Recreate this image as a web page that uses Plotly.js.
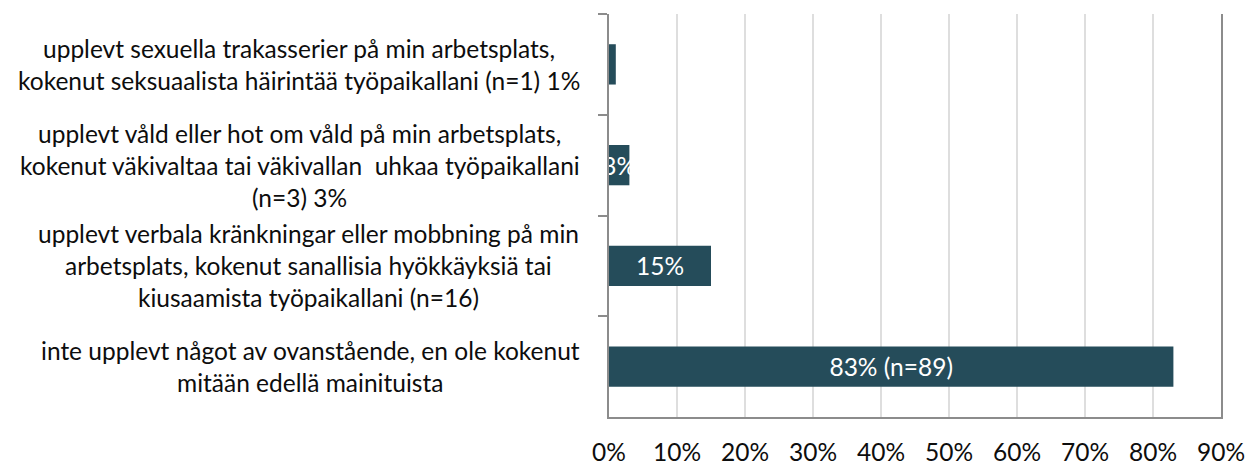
<!DOCTYPE html>
<html>
<head>
<meta charset="utf-8">
<script src="https://cdn.plot.ly/plotly-3.0.1.min.js"></script>
<style>html,body{margin:0;padding:0;background:#fff;}#chart{width:1253px;height:465px;}</style>
</head>
<body>
<div id="chart"></div>
<script>
// ---- data ----
const categories = [
  'upplevt sexuella trakasserier på min arbetsplats,<br>kokenut seksuaalista häirintää työpaikallani (n=1) 1%',
  'upplevt våld eller hot om våld på min arbetsplats,<br>kokenut väkivaltaa tai väkivallan  uhkaa työpaikallani<br>(n=3) 3%',
  'upplevt verbala kränkningar eller mobbning på min<br>arbetsplats, kokenut sanallisia hyökkäyksiä tai<br>kiusaamista työpaikallani (n=16)',
  'inte upplevt något av ovanstående, en ole kokenut<br>mitään edellä mainituista'
];
const values = [1, 3, 15, 83];
const barText = ['', '3%', '15%', '83% (n=89)'];
const xTickVals = [0, 10, 20, 30, 40, 50, 60, 70, 80, 90];
const xTickText = ['0%', '10%', '20%', '30%', '40%', '50%', '60%', '70%', '80%', '90%'];

// ---- style ----
const FAMILY = 'Lato, "Open Sans", sans-serif';
const FS = 24.5;
const AXIS = '#8c8c8c';
const W = 1253, H = 465;
const M = {l: 609, r: 32, t: 14, b: 48};
const plotW = W - M.l - M.r;
const LABEL_RIGHT = 580;   // right edge of category label block (px)
const LINE_GAP = 32;

function draw() {
  const ctx = document.createElement('canvas').getContext('2d');
  ctx.font = FS + 'px Lato';
  const annotations = [];
  categories.forEach(cat => {
    const lines = cat.split('<br>');
    const maxW = Math.max(...lines.map(s => ctx.measureText(s).width));
    const cx = LABEL_RIGHT - maxW / 2;
    lines.forEach((ln, j) => {
      annotations.push({
        xref: 'paper', yref: 'y', x: (cx - M.l) / plotW, y: cat,
        text: ln, showarrow: false, xanchor: 'center', yanchor: 'middle',
        yshift: ((lines.length - 1) / 2 - j) * LINE_GAP,
        font: {family: FAMILY, size: FS, color: '#0d0d0d'}
      });
    });
  });

  const trace = {
    type: 'bar', orientation: 'h',
    x: values, y: categories,
    width: 0.4,
    marker: {color: '#254c5a'},
    text: barText, textposition: 'inside', insidetextanchor: 'middle',
    constraintext: 'none', textangle: 0,
    textfont: {family: FAMILY, size: FS, color: '#ffffff'},
    hoverinfo: 'none'
  };

  const layout = {
    width: W, height: H,
    margin: M,
    paper_bgcolor: '#fff', plot_bgcolor: '#fff',
    showlegend: false,
    font: {family: FAMILY, size: FS, color: '#0d0d0d'},
    xaxis: {
      range: [0, 90], tickmode: 'array', tickvals: xTickVals, ticktext: xTickText,
      showgrid: true, gridcolor: '#dedede', gridwidth: 1.5,
      zeroline: false, showline: true, linecolor: AXIS, linewidth: 2,
      ticks: '', ticklabelstandoff: 13,
      tickfont: {family: FAMILY, size: FS, color: '#0d0d0d'}
    },
    xaxis2: {
      overlaying: 'x', side: 'top', anchor: 'y',
      range: [0, 90], tickmode: 'array', tickvals: xTickVals,
      showgrid: false, zeroline: false, showticklabels: false,
      showline: true, linecolor: AXIS, linewidth: 2,
      ticks: 'outside', ticklen: 9, tickwidth: 2, tickcolor: AXIS
    },
    yaxis: {
      type: 'category', categoryorder: 'array', categoryarray: categories,
      autorange: 'reversed',
      showticklabels: false, showgrid: false, zeroline: false,
      showline: true, linecolor: AXIS, linewidth: 2, mirror: true,
      ticks: 'outside', tickson: 'boundaries', ticklen: 9, tickwidth: 2, tickcolor: AXIS
    },
    annotations: annotations
  };

  Plotly.newPlot('chart', [trace], layout, {staticPlot: true, displayModeBar: false});
}

if (document.fonts && document.fonts.load) {
  document.fonts.load(FS + 'px Lato').then(draw, draw);
} else {
  draw();
}
</script>
</body>
</html>
